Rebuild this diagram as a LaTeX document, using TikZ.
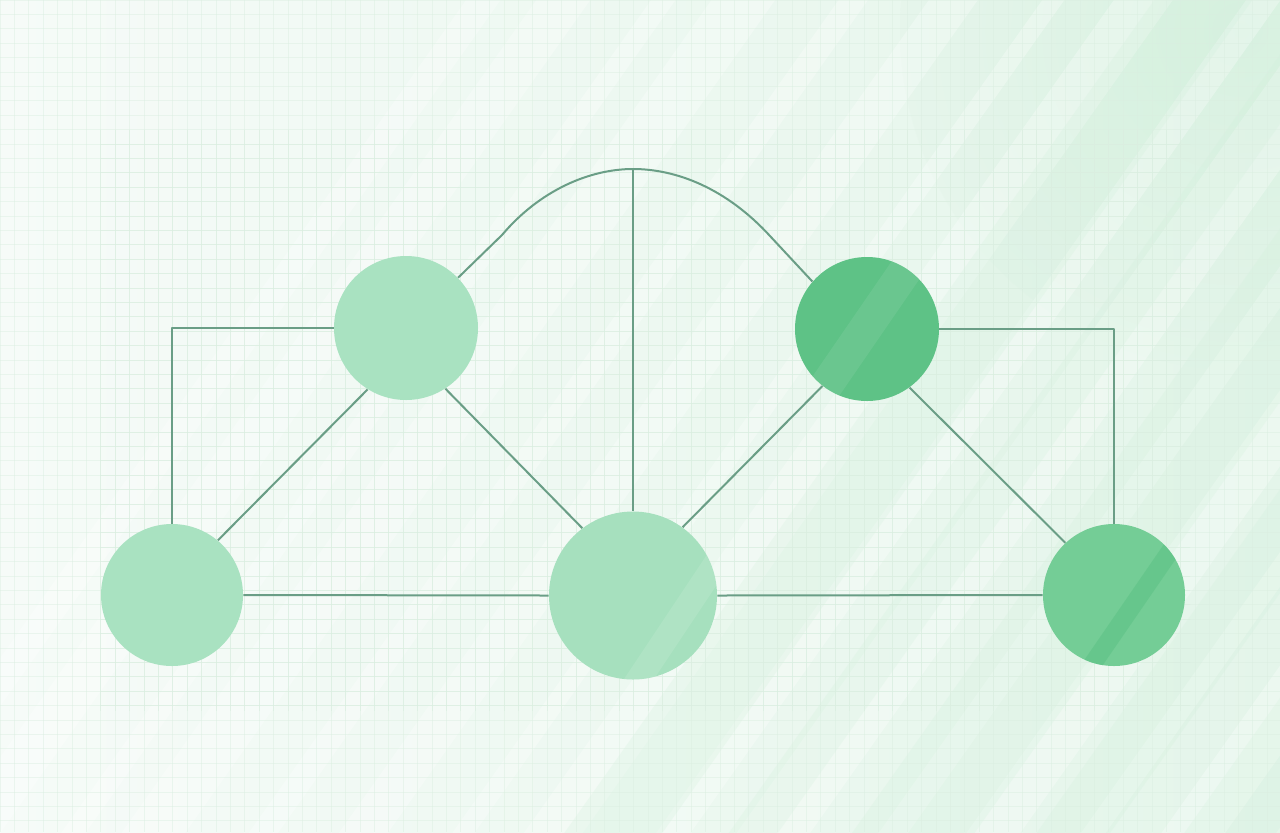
\documentclass[tikz,border=0pt]{standalone}
\usetikzlibrary{calc}
\definecolor{bgleft}{HTML}{F6FBF8}
\definecolor{bgright}{HTML}{E4F5EA}
\definecolor{glow}{HTML}{CDEFD8}
\definecolor{gridc}{HTML}{DAEEE0}
\definecolor{linec}{HTML}{6A9E86}
\definecolor{lightnode}{HTML}{A9E2C1}
\definecolor{dnode}{HTML}{A6E0BE}
\definecolor{midnode}{HTML}{74CD96}
\definecolor{darknode}{HTML}{5EC286}
\tikzset{
  gnode/.style={circle, draw=none, inner sep=0pt},
  conn/.style={draw=linec, line width=1pt, line join=round},
  gridline/.style={draw=gridc, line width=0.4pt},
  streak/.style={line cap=round, draw=white, opacity=0.3},
  gstreak/.style={line cap=round, draw=glow, opacity=0.22}
}
\begin{document}
\begin{tikzpicture}[x=0.5pt,y=-0.5pt]
\useasboundingbox (0,0) rectangle (1280,832);
% background
\shade[left color=bgleft, right color=bgright] (0,0) rectangle (1280,832);
\begin{scope}
\clip (0,0) rectangle (1280,832);
\shade[inner color=glow, outer color=bgright, opacity=0.5] (1240,30) circle (340);
% diagonal streaks
\foreach \x/\w in {-140/14, -60/22, 40/10, 120/26, 230/12, 330/20, 430/9, 520/24, 640/14, 740/30, 860/12, 960/22, 1060/10, 1160/26, 1260/14}{
  \draw[streak, line width=\w] (\x,880) -- ++(680,-960);
}
\foreach \x/\w in {580/40, 720/20, 880/50, 1040/30, 1200/40}{
  \draw[gstreak, line width=\w] (\x,880) -- ++(680,-960);
}
% faint outer grid
\begin{scope}[opacity=0.45]
\foreach \gx in {0,14.4,...,1280}{ \draw[gridline] (\gx,0) -- (\gx,832); }
\foreach \gy in {0,14.4,...,832}{ \draw[gridline] (0,\gy) -- (1280,\gy); }
\end{scope}
% central grid
\begin{scope}[opacity=0.6]
\clip (100,130) rectangle (1190,710);
\foreach \gx in {0,14.4,...,1280}{ \draw[gridline] (\gx,0) -- (\gx,832); }
\foreach \gy in {0,14.4,...,832}{ \draw[gridline] (0,\gy) -- (1280,\gy); }
\end{scope}
\end{scope}

% nodes
\node[gnode, fill=lightnode, minimum size=72pt] (A) at (406,328) {};
\node[gnode, fill=darknode, minimum size=72pt] (B) at (867,329) {};
\node[gnode, fill=lightnode, minimum size=71pt] (C) at (172,595) {};
\node[gnode, fill=dnode, minimum size=84pt] (D) at (633,595.5) {};
\node[gnode, fill=midnode, minimum size=71pt] (E) at (1114,595) {};

% subtle bands inside circles
\begin{scope}
\clip (B) circle (36pt);
\fill[white, opacity=0.08] ($(B)+(-70,70)$) -- ++(40,0) -- ++(110,-160) -- ++(-40,0) -- cycle;
\end{scope}
\begin{scope}
\clip (E) circle (35.5pt);
\fill[darknode, opacity=0.6] ($(E)+(-40,80)$) -- ++(22,0) -- ++(110,-160) -- ++(-22,0) -- cycle;
\end{scope}
\begin{scope}
\clip (D) circle (42pt);
\fill[white, opacity=0.1] ($(D)+(-20,100)$) -- ++(30,0) -- ++(120,-180) -- ++(-30,0) -- cycle;
\end{scope}

% top coordinate and curve joints
\coordinate (top) at (633,169);
\coordinate (kl) at (502,235);
\coordinate (kr) at (770,236);

% connectors
\draw[conn] (C.50) -- (A.238);
\draw[conn] (A.303) -- (D.127);
\draw[conn] (D.54) -- (B.232);
\draw[conn] (B.306) -- (E.133);
\draw[conn] (C.east) -- (D.west);
\draw[conn] (D.east) -- (E.west);
\draw[conn] (C.north) |- (A.west);
\draw[conn] (B.east) -| (E.north);
\draw[conn] (D.north) -- (top);
\draw[conn] (A.44) -- (kl) .. controls (540,190) and (590,169) .. (top)
  .. controls (676,169) and (726,188) .. (kr) -- (B.139);
\end{tikzpicture}
\end{document}
